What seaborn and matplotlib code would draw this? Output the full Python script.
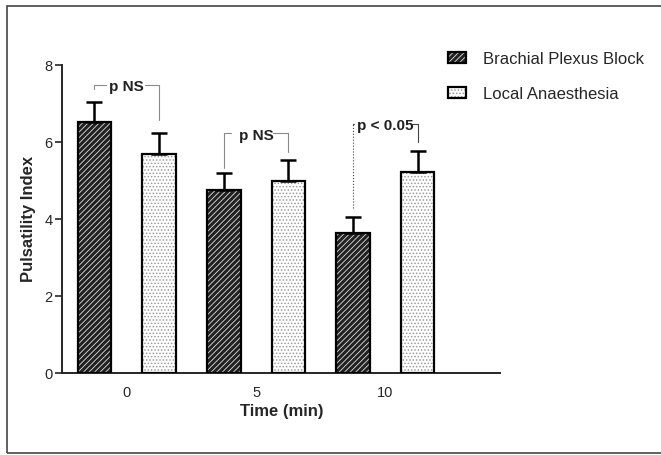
import numpy as np
import pandas as pd
import seaborn as sns
import matplotlib.pyplot as plt
from matplotlib.patches import Patch, Rectangle
from matplotlib.legend_handler import HandlerTuple

sns.set_style("ticks")
plt.rcParams['font.family'] = ['Liberation Sans', 'DejaVu Sans']
plt.rcParams['hatch.linewidth'] = 0.7

# data (mean +/- SEM)
times = ["0", "5", "10"]
groups = ["Brachial Plexus Block", "Local Anaesthesia"]
bpb_mean = [6.52, 4.75, 3.64]
bpb_sem = [0.52, 0.44, 0.41]
la_mean = [5.69, 4.99, 5.22]
la_sem = [0.54, 0.54, 0.55]
p_labels = ["p NS", "p NS", "p < 0.05"]

df = pd.DataFrame({
    "time": times * 2,
    "group": [groups[0]] * 3 + [groups[1]] * 3,
    "pi": bpb_mean + la_mean,
})

fig = plt.figure(figsize=(6.61, 4.55), dpi=100)
ax = fig.add_axes([0.094, 0.18, 0.663, 0.677])

sns.barplot(data=df, x="time", y="pi", hue="group", order=times, hue_order=groups,
            width=1.0, gap=0.48, errorbar=None, legend=False, ax=ax)

face = ["#202020", "white"]
hatch_col = ["#c8c8c8", "#9a9a9a"]
hatches = ["//////", "....."]
for i, cont in enumerate(ax.containers):
    for bar in cont:
        bar.set_facecolor(face[i])
        bar.set_edgecolor(hatch_col[i])
        bar.set_hatch(hatches[i])
        bar.set_linewidth(0)
        ax.add_patch(Rectangle(bar.get_xy(), bar.get_width(), bar.get_height(),
                               fill=False, ec="black", lw=1.6, zorder=3))

# one-sided error bars
centers = []
for cont, means, sems in zip(ax.containers, [bpb_mean, la_mean], [bpb_sem, la_sem]):
    xs = [b.get_x() + b.get_width() / 2 for b in cont]
    centers.append(xs)
    ax.errorbar(xs, means, yerr=[np.zeros(len(means)), sems], fmt="none",
                ecolor="black", elinewidth=1.8, capsize=5.5, capthick=1.8, zorder=2)

# significance brackets
top_y = [7.48, 6.23, 6.47]
left_end = [7.38, 5.32, 4.29]
right_end = [6.57, 5.74, 6.00]
hook_l = [0.09, 0.06, 0.01]
hook_r = [0.11, 0.12, 0.04]
for i in range(3):
    xl, xr = centers[0][i], centers[1][i]
    col = "#8a8a8a" if i < 2 else "#444444"
    ls_l = "-" if i < 2 else ":"
    ax.plot([xl, xl], [left_end[i], top_y[i]], color=col, lw=0.8, ls=ls_l)
    ax.plot([xl, xl + hook_l[i]], [top_y[i], top_y[i]], color=col, lw=0.8)
    ax.plot([xr - hook_r[i], xr], [top_y[i], top_y[i]], color=col, lw=0.8)
    ax.plot([xr, xr], [top_y[i], right_end[i]], color=col, lw=0.8)
    ax.text(i, top_y[i] - 0.06, p_labels[i], ha="center", va="center",
            fontsize=11, fontweight="bold", color="#222222")

ax.set_ylim(0, 8)
ax.set_xlim(-0.5, 2.89)
ax.set_yticks([0, 2, 4, 6, 8])
sns.despine(ax=ax)
for s in ["left", "bottom"]:
    ax.spines[s].set_linewidth(1.4)
ax.tick_params(axis="y", length=5, width=1.2, pad=2, labelsize=10.5)
ax.tick_params(axis="x", length=0, pad=9, labelsize=10.5)
ax.set_xlabel("Time (min)", fontsize=12, fontweight="bold", labelpad=3)
ax.set_ylabel("Pulsatility Index", fontsize=12, fontweight="bold", labelpad=6)

handles = []
for i in range(2):
    h1 = Patch(facecolor=face[i], edgecolor=hatch_col[i], hatch=hatches[i], lw=0)
    h2 = Patch(fill=False, edgecolor="black", lw=1.6)
    handles.append((h1, h2))
fig.legend(handles, groups, loc="upper left", bbox_to_anchor=(0.665, 0.905),
           frameon=False, fontsize=12, borderpad=0, handlelength=1.1,
           handleheight=0.6, handletextpad=1.0, labelspacing=1.2,
           handler_map={tuple: HandlerTuple(ndivide=1, pad=0)})

fig.add_artist(Rectangle((0.0106, 0.0044), 1.2, 0.983, transform=fig.transFigure,
                         fill=False, ec="#444444", lw=1.2))

fig.savefig("out.png", dpi=100)
